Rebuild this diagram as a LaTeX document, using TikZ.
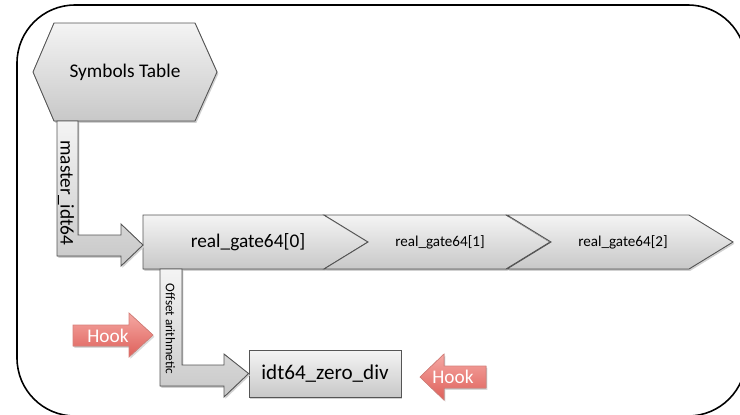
\documentclass[tikz,border=0pt]{standalone}
\usepackage{fontspec}
\setmainfont{Carlito}
\usepackage{xcolor}
\usepackage{tikz}
\usetikzlibrary{positioning}

\definecolor{boxtop}{RGB}{244,244,244}
\definecolor{boxbot}{RGB}{200,200,200}
\definecolor{boxline}{RGB}{85,85,85}
\definecolor{hooktop}{RGB}{245,168,163}
\definecolor{hookbot}{RGB}{222,96,90}
\definecolor{hookline}{RGB}{214,128,122}

\tikzset{
  grayshape/.style={draw=boxline, line width=0.5pt, top color=boxtop, bottom color=boxbot,
    preaction={fill=black!18, transform canvas={xshift=0.8pt, yshift=-1pt}}},
  hookshape/.style={draw=hookline, line width=0.4pt, top color=hooktop, bottom color=hookbot,
    preaction={fill=black!15, transform canvas={xshift=0.8pt, yshift=-1pt}}},
  bigtext/.style={font=\fontsize{11}{13}\selectfont, inner sep=0pt},
  midtext/.style={font=\fontsize{8.6}{10}\selectfont, inner sep=0pt},
  smalltext/.style={font=\fontsize{7.5}{9}\selectfont, inner sep=0pt},
}

\begin{document}
\begin{tikzpicture}[x=0.02cm, y=-0.02cm]
    \clip (0,0) rectangle (740,414);
    % Outer frame
    \draw[line width=0.9pt, rounded corners=1.16cm] (17,5) rectangle (746,416);

    % Symbols table
    \filldraw[grayshape] (33,72) -- (54,23) -- (195,23) -- (217,72) -- (195,121) -- (54,121) -- cycle;
    \node[bigtext] (symtab) at (125,72) {Symbols Table};

    % Gate chain
    \filldraw[grayshape] (143,215) -- (324,215) -- (368,242) -- (324,269) -- (143,269) -- cycle;
    \foreach \i in {0,1} {
        \filldraw[grayshape] (324+183*\i,215) -- (506+183*\i,215) -- (550+183*\i,242)
            -- (506+183*\i,269) -- (324+183*\i,269) -- (368+183*\i,242) -- cycle;
    }
    \node[bigtext] (gate0) at (248,242) {real\_gate64[0]};
    \node[midtext] (gate1) at (440,242) {real\_gate64[1]};
    \node[midtext] (gate2) at (623,242) {real\_gate64[2]};
    \coordinate (gate0w) at (143,245);

    % Handler box
    \node[grayshape, rectangle, minimum width=3.04cm, minimum height=0.94cm, inner sep=0pt,
        font=\fontsize{12}{14}\selectfont] (zerodiv) at (325,373.5) {idt64\_zero\_div};

    % master_idt64 pointer
    \filldraw[grayshape] (57,121) -- (78,121) -- (78,235) -- (121,235) -- (121,224) -- (gate0w)
        -- (121,266) -- (121,256) -- (57,256) -- cycle;
    \node[bigtext, rotate=-90] (master) at (66,193) {master\_idt64};

    % Offset arithmetic pointer
    \filldraw[grayshape] (160,269) -- (182,269) -- (182,365) -- (224,365) -- (224,354) -- (zerodiv.west)
        -- (224,397) -- (224,386) -- (160,386) -- cycle;
    \node[smalltext, rotate=-90] (offset) at (170.5,329) {Offset arithmetic};

    % Hooks
    \filldraw[hookshape] (73,325) -- (129,325) -- (129,313) -- (153,335) -- (129,357) -- (129,346) -- (73,346) -- cycle;
    \node[bigtext, text=white] (hook1) at (108,336) {Hook};
    \filldraw[hookshape] (486,366) -- (444,366) -- (444,354) -- (420,377) -- (444,400) -- (444,388) -- (486,388) -- cycle;
    \node[bigtext, text=white] (hook2) at (453,377) {Hook};
\end{tikzpicture}
\end{document}
